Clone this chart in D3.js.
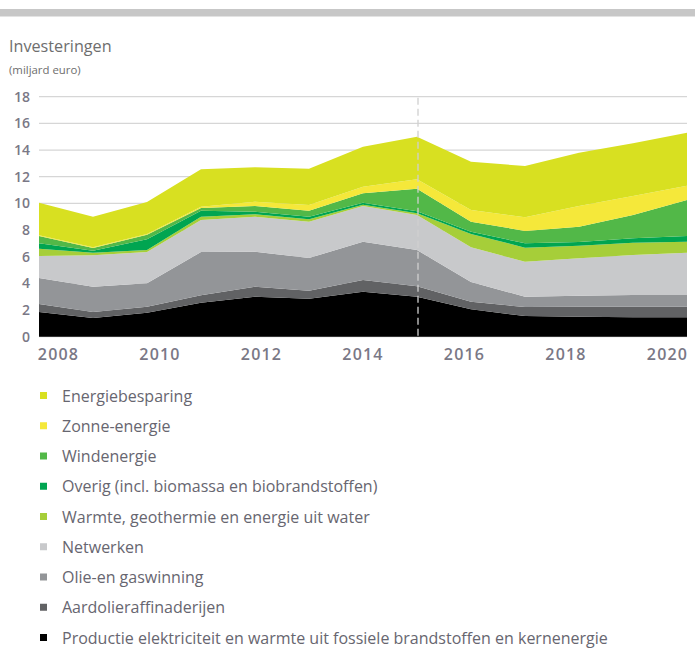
<!DOCTYPE html>
<html>
<head>
<meta charset="utf-8">
<script src="https://cdn.jsdelivr.net/npm/d3@7"></script>
<style>
  body { margin: 0; background: #fff; }
  text { font-family: "Open Sans", "DejaVu Sans", sans-serif; }
</style>
</head>
<body>
<div id="chart"></div>
<script>
// ===============Data (miljard euro), stack order bottom -> top
var years = [2008, 2009, 2010, 2011, 2012, 2013, 2014, 2015, 2016, 2017, 2018, 2019, 2020];
var tickLabels = ["2008", "2010", "2012", "2014", "2016", "2018", "2020"];
var yTicks = [0, 2, 4, 6, 8, 10, 12, 14, 16, 18];

var productie  = [1.85, 1.40, 1.80, 2.55, 3.00, 2.85, 3.38, 3.00, 2.05, 1.55, 1.50, 1.45, 1.45];
var aardolie   = [0.60, 0.45, 0.45, 0.55, 0.75, 0.60, 0.87, 0.78, 0.58, 0.67, 0.75, 0.80, 0.80];
var olieGas    = [1.95, 1.90, 1.75, 3.25, 2.63, 2.45, 2.88, 2.72, 1.47, 0.78, 0.83, 0.88, 0.88];
var netwerken  = [1.65, 2.35, 2.35, 2.40, 2.62, 2.73, 2.67, 2.63, 2.60, 2.63, 2.80, 3.00, 3.17];
var warmte     = [0.55, 0.20, 0.15, 0.25, 0.18, 0.17, 0.10, 0.12, 1.00, 1.05, 0.94, 0.92, 0.83];
var overig     = [0.40, 0.15, 0.80, 0.45, 0.20, 0.20, 0.15, 0.15, 0.18, 0.32, 0.28, 0.33, 0.42];
var wind       = [0.55, 0.20, 0.35, 0.20, 0.42, 0.45, 0.70, 1.70, 0.75, 0.93, 1.15, 1.75, 2.70];
var zon        = [0.05, 0.05, 0.05, 0.10, 0.33, 0.43, 0.50, 0.70, 0.87, 1.02, 1.55, 1.42, 1.08];
var besparing  = [2.45, 2.30, 2.40, 2.80, 2.57, 2.72, 3.00, 3.20, 3.63, 3.85, 4.00, 3.95, 3.97];

var seriesKeys = ["productie", "aardolie", "olieGas", "netwerken", "warmte", "overig", "wind", "zon", "besparing"];
var seriesNames = [
  "Productie elektriciteit en warmte uit fossiele brandstoffen en kernenergie",
  "Aardolieraffinaderijen",
  "Olie-en gaswinning",
  "Netwerken",
  "Warmte, geothermie en energie uit water",
  "Overig (incl. biomassa en biobrandstoffen)",
  "Windenergie",
  "Zonne-energie",
  "Energiebesparing"
];
var seriesColors = ["#000000", "#616264", "#939598", "#c8c9cb", "#a6ce39", "#00a551", "#52b848", "#f5e83a", "#d8e021"];
var seriesValues = [productie, aardolie, olieGas, netwerken, warmte, overig, wind, zon, besparing];

// ===========Table for d3.stack
var table = years.map(function(y, i) {
  var row = { year: y };
  seriesKeys.forEach(function(k, j) { row[k] = seriesValues[j][i]; });
  return row;
});

// ===========Set Height, Width
var svgWidth = 695;
var svgHeight = 648;
var margin = { top: 96.7, left: 39, right: 8, bottom: 311.3 };
var height = svgHeight - margin.top - margin.bottom; // 240
var width = svgWidth - margin.left - margin.right;   // 648

var svg = d3.select("#chart").append("svg")
  .attr("width", svgWidth)
  .attr("height", svgHeight);

// top grey bar
svg.append("rect")
  .attr("x", 0).attr("y", 9)
  .attr("width", svgWidth).attr("height", 7.5)
  .attr("fill", "#c7c7c7");

// titles
svg.append("text")
  .attr("x", 9).attr("y", 52)
  .attr("font-size", "16.2px")
  .attr("fill", "#6e6e6e")
  .text("Investeringen");

svg.append("text")
  .attr("x", 9).attr("y", 74)
  .attr("font-size", "11.4px")
  .attr("fill", "#6e6e6e")
  .text("(miljard euro)");

var chartGroup = svg.append("g")
  .attr("transform", `translate(${margin.left}, ${margin.top})`);

// ===========Scales
var xScale = d3.scaleLinear()
  .domain([years[0], years[years.length - 1]])
  .range([0, width]);

var yScale = d3.scaleLinear()
  .domain([0, 18])
  .range([height, 0]);

// labels are evenly spread under the plot, slightly offset from the data points
var labelScale = d3.scalePoint()
  .domain(tickLabels)
  .range([19, 628]);

// ===========Grid lines
chartGroup.append("g")
  .selectAll("line")
  .data(yTicks)
  .enter()
  .append("line")
  .attr("x1", 0)
  .attr("x2", width)
  .attr("y1", d => yScale(d))
  .attr("y2", d => yScale(d))
  .attr("stroke", "#d6d6d6")
  .attr("stroke-width", 1.3);

// ===========Stacked areas
var stack = d3.stack().keys(seriesKeys);
var layers = stack(table);

var area = d3.area()
  .x(d => xScale(d.data.year))
  .y0(d => yScale(d[0]))
  .y1(d => yScale(d[1]));

chartGroup.selectAll(".layer")
  .data(layers)
  .enter()
  .append("path")
  .attr("class", "layer")
  .attr("d", area)
  .attr("fill", (d, i) => seriesColors[i]);

// dashed line at 2015
chartGroup.append("line")
  .attr("x1", xScale(2015) + 1)
  .attr("x2", xScale(2015) + 1)
  .attr("y1", 1)
  .attr("y2", height)
  .attr("stroke", "#d0d0d0")
  .attr("stroke-width", 1.3)
  .attr("stroke-dasharray", "7,4");

// ===========Axes
var leftAxis = d3.axisLeft(yScale)
  .tickValues(yTicks)
  .tickSize(0)
  .tickPadding(9);

var yAxis = chartGroup.append("g")
  .call(leftAxis);
yAxis.select(".domain").remove();
yAxis.selectAll("text")
  .attr("font-size", "14px")
  .attr("font-family", "\"Open Sans\", sans-serif")
  .attr("font-weight", 600)
  .attr("fill", "#7a7886");

var bottomAxis = d3.axisBottom(labelScale)
  .tickSize(0)
  .tickPadding(12);

var xAxis = chartGroup.append("g")
  .attr("transform", `translate(0, ${height})`)
  .call(bottomAxis);
xAxis.select(".domain").remove();
xAxis.selectAll("text")
  .attr("font-size", "16px")
  .attr("letter-spacing", "1.2px")
  .attr("font-family", "\"Open Sans\", sans-serif")
  .attr("font-weight", 600)
  .attr("fill", "#7a7886");

// ===========Legend (top to bottom = reversed stack)
var legendOrder = d3.range(seriesKeys.length).reverse();
var legendScale = d3.scalePoint()
  .domain(legendOrder)
  .range([396, 638]);

var legend = svg.append("g")
  .selectAll("g")
  .data(legendOrder)
  .enter()
  .append("g")
  .attr("transform", d => `translate(40, ${legendScale(d)})`);

legend.append("rect")
  .attr("x", 0).attr("y", -4)
  .attr("width", 7).attr("height", 7)
  .attr("fill", d => seriesColors[d]);

legend.append("text")
  .attr("x", 22).attr("y", 5.5)
  .attr("font-size", "16px")
  .attr("fill", "#676670")
  .text(d => seriesNames[d]);
</script>
</body>
</html>
